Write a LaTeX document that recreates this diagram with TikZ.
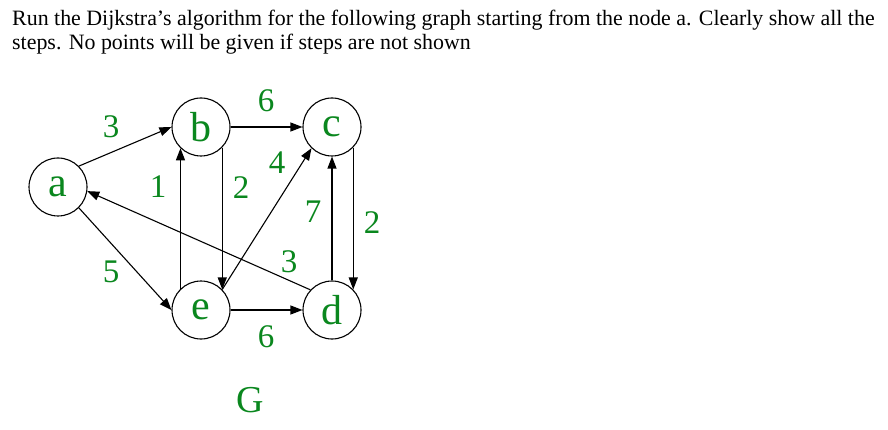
\documentclass[tikz,border=0pt]{standalone}
\usepackage{fontspec}
\setmainfont{Liberation Serif}
\usetikzlibrary{arrows.meta}
\definecolor{wgreen}{RGB}{10,135,30}
\begin{document}
\begin{tikzpicture}[
  x=1pt, y=-1pt,
  vtx/.style={circle, draw, line width=1.1pt, minimum size=58pt, inner sep=0pt, text=wgreen, font=\fontsize{42}{42}\selectfont},
  wlbl/.style={text=wgreen, font=\fontsize{33}{33}\selectfont, inner sep=0pt},
  edge/.style={line width=1.1pt, -{Triangle[length=12pt, width=9pt]}},
]
\useasboundingbox (0,0) rectangle (888,430);

% question text
\node[anchor=base west, inner sep=0pt, font=\fontsize{21.9}{26}\selectfont] (q1) at (12,26) {Run the Dijkstra’s algorithm for the following graph starting from the node a. Clearly show all the};
\node[anchor=base west, inner sep=0pt, font=\fontsize{21.9}{26}\selectfont] (q2) at (12,50) {steps. No points will be given if steps are not shown};

% vertices
\node[vtx] (a) at (58,187) {a};
\node[vtx] (b) at (201,127) {b};
\node[vtx] (c) at (332,127) {c};
\node[vtx] (e) at (201,310) {e};
\node[vtx] (d) at (332,310) {d};

% edges
\draw[edge] (a.45) -- (b.180);
\draw[edge] (a.-45) -- (e.180);
\draw[edge] (d.137) -- (a.-8);
\draw[edge] (b) -- (c);
\draw[edge] (e) -- (d);
\draw[edge] (e.134) -- (b.226);
\draw[edge] (b.-44) -- (e.44);
\draw[edge] (e.44) -- (c.226);
\draw[edge] (d.north) -- (c.south);
\draw[edge] (c.-44) -- (d.44);

% weights
\node[wlbl] (w_ab) at (111,127) {3};
\node[wlbl] (w_bc) at (266,101) {6};
\node[wlbl] (w_ec) at (277,163) {4};
\node[wlbl] (w_eb) at (158,187) {1};
\node[wlbl] (w_be) at (241,188) {2};
\node[wlbl] (w_dc) at (313,212) {7};
\node[wlbl] (w_cd) at (372,223) {2};
\node[wlbl] (w_da) at (289,262) {3};
\node[wlbl] (w_ae) at (111,272) {5};
\node[wlbl] (w_ed) at (266,337) {6};

% graph name
\node[wlbl, font=\fontsize{38}{38}\selectfont] (gname) at (250,400) {G};

\end{tikzpicture}
\end{document}
